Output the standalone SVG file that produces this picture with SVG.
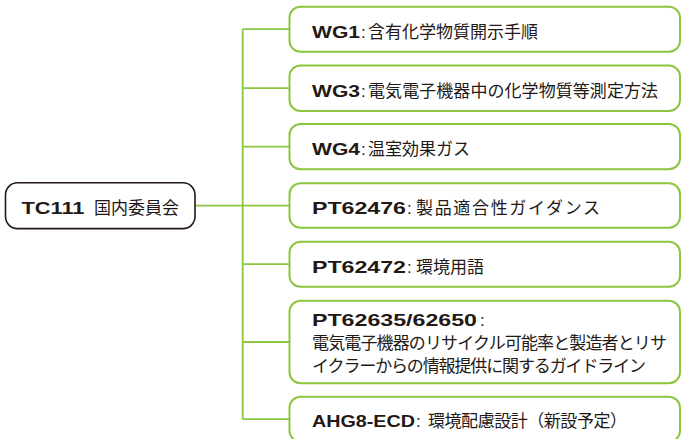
<svg xmlns="http://www.w3.org/2000/svg" width="681" height="439" viewBox="0 0 681 439">
<style>
.bg{fill:#ffffff}
.box{fill:#ffffff;stroke:#8cc63f;stroke-width:2}
.root{fill:#ffffff;stroke:#231815;stroke-width:1.6}
.conn{fill:none;stroke:#8cc63f;stroke-width:1.8}
.b{font-family:"Liberation Sans",Arial,sans-serif;font-weight:bold;font-size:17px;fill:#231815}
.c{font-family:"Liberation Sans",Arial,sans-serif;font-size:17px;fill:#231815}
.j{font-family:"Noto Sans CJK JP","Noto Sans CJK SC",sans-serif;font-size:17px;fill:#231815}
</style>
<rect class="bg" x="0" y="0" width="681" height="439"/>
<g id="connectors">
<path class="conn" d="M195,205.7H242.7M242.7,29.2V419.2M242.7,29.2H289.5M242.7,88.2H289.5M242.7,146.7H289.5M242.7,205.7H289.5M242.7,264.2H289.5M242.7,342H289.5M242.7,419.2H289.5"/>
</g>
<g id="tc111">
<rect class="root" x="5.5" y="182.8" width="189.5" height="45.8" rx="12"/>
<text class="b" x="21.5" y="214" textLength="63" lengthAdjust="spacingAndGlyphs">TC111</text>
<text class="j" x="94" y="214" textLength="85" lengthAdjust="spacing">国内委員会</text>
</g>
<g id="wg1">
<rect class="box" x="289.5" y="6.7" width="390.5" height="45" rx="11"/>
<text class="b" x="312" y="37.5" textLength="48" lengthAdjust="spacingAndGlyphs">WG1</text>
<text class="c" x="361" y="37.5">:</text>
<text class="j" x="368" y="37.5" textLength="170" lengthAdjust="spacing">含有化学物質開示手順</text>
</g>
<g id="wg3">
<rect class="box" x="289.5" y="65.5" width="390.5" height="45.5" rx="11"/>
<text class="b" x="312" y="96.5" textLength="48" lengthAdjust="spacingAndGlyphs">WG3</text>
<text class="c" x="361" y="96.5">:</text>
<text class="j" x="368" y="96.5" textLength="290" lengthAdjust="spacing">電気電子機器中の化学物質等測定方法</text>
</g>
<g id="wg4">
<rect class="box" x="289.5" y="124" width="390.5" height="45.3" rx="11"/>
<text class="b" x="312" y="155" textLength="48" lengthAdjust="spacingAndGlyphs">WG4</text>
<text class="c" x="361" y="155">:</text>
<text class="j" x="368" y="155" textLength="102" lengthAdjust="spacing">温室効果ガス</text>
</g>
<g id="pt62476">
<rect class="box" x="289.5" y="183.3" width="390.5" height="44.5" rx="11"/>
<text class="b" x="312" y="214" textLength="94" lengthAdjust="spacingAndGlyphs">PT62476</text>
<text class="c" x="407" y="214">:</text>
<text class="j" x="416" y="214" textLength="184" lengthAdjust="spacing">製品適合性ガイダンス</text>
</g>
<g id="pt62472">
<rect class="box" x="289.5" y="241.7" width="390.5" height="45" rx="11"/>
<text class="b" x="312" y="272.5" textLength="94" lengthAdjust="spacingAndGlyphs">PT62472</text>
<text class="c" x="407" y="272.5">:</text>
<text class="j" x="416" y="272.5" textLength="68" lengthAdjust="spacing">環境用語</text>
</g>
<g id="pt62635">
<rect class="box" x="289.5" y="300.7" width="390.5" height="82.6" rx="11"/>
<text class="b" x="312" y="326" textLength="165" lengthAdjust="spacingAndGlyphs">PT62635/62650</text>
<text class="c" x="480" y="326">:</text>
<text class="j" x="312" y="348.5" textLength="355" lengthAdjust="spacing">電気電子機器のリサイクル可能率と製造者とリサ</text>
<text class="j" x="312" y="371.5" textLength="334" lengthAdjust="spacing">イクラーからの情報提供に関するガイドライン</text>
</g>
<g id="ahg8">
<rect class="box" x="289.5" y="396.7" width="390.5" height="45" rx="11"/>
<text class="b" x="312" y="427" textLength="103" lengthAdjust="spacingAndGlyphs">AHG8-ECD</text>
<text class="c" x="416" y="427">:</text>
<text class="j" x="428" y="427" textLength="199" lengthAdjust="spacing">環境配慮設計（新設予定）</text>
</g>
</svg>
